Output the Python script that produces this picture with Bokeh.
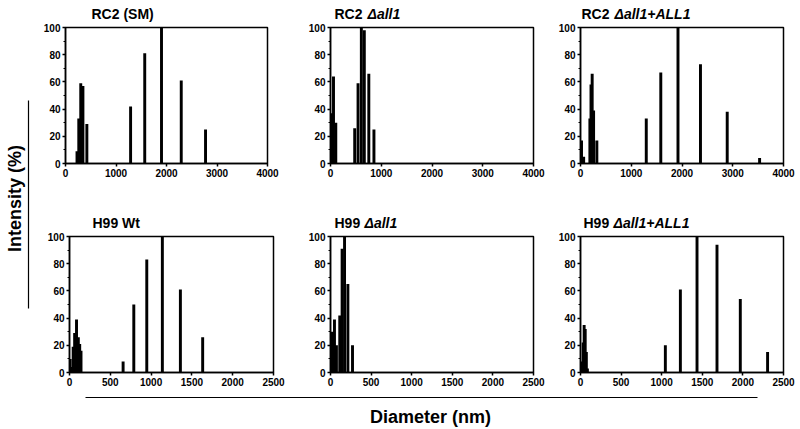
import math
from bokeh.plotting import figure
from bokeh.models import Range1d, Label, SingleIntervalTicker, FixedTicker
from bokeh.layouts import row, column
from bokeh.embed import file_html
from bokeh.resources import INLINE

# ---- data (diameter nm, intensity %) ----
rc2_sm_d = [228, 263, 302, 345, 423, 1289, 1569, 1901, 2292, 2773]
rc2_sm_i = [9, 33, 59, 57, 29, 42, 81, 100, 61, 25]
rc2_del_d = [20, 59, 104, 477, 543, 608, 666, 755, 856]
rc2_del_i = [37, 64, 30, 26, 59, 100, 98, 66, 25]
rc2_comp_d = [20, 62, 185, 207, 230, 258, 322, 1296, 1582, 1921, 2364, 2891, 3529]
rc2_comp_i = [17, 5, 33, 58, 66, 39, 17, 33, 67, 100, 73, 38, 4]
h99_wt_d = [8, 29, 45, 63, 86, 108, 125, 141, 657, 788, 947, 1138, 1359, 1632]
h99_wt_i = [10, 4, 19, 29, 39, 26, 21, 16, 8, 50, 83, 100, 61, 26]
h99_del_d = [6, 24, 49, 73, 114, 143, 173, 214, 271]
h99_del_i = [28, 30, 39, 20, 42, 91, 100, 65, 20]
h99_comp_d = [20, 33, 45, 58, 72, 85, 1045, 1230, 1435, 1681, 1968, 2304]
h99_comp_i = [8, 22, 35, 32, 15, 3, 20, 61, 100, 94, 54, 15]

top_ticks = [0, 1000, 2000, 3000, 4000]
bottom_ticks = [0, 500, 1000, 1500, 2000, 2500]

top_titles = [("RC2 (SM)", ""), ("RC2", "\u0394all1"), ("RC2", "\u0394all1+ALL1")]
bottom_titles = [("H99 Wt", ""), ("H99", "\u0394all1"), ("H99", "\u0394all1+ALL1")]

FONT = "Liberation Sans"
FRAME_H = 136
TOTAL_H = 428


def blank(width, height):
    p = figure(width=width, height=height, x_range=Range1d(0, width), y_range=Range1d(0, height),
               output_backend="svg", toolbar_location=None, title=None, min_border=0,
               x_axis_location=None, y_axis_location=None, outline_line_color=None)
    p.grid.visible = False
    return p


def panel(xs, ys, xmax, ticks, bar_w, width, bl, br, bt, bb):
    height = bt + FRAME_H + bb
    p = figure(width=width, height=height, x_range=Range1d(0, xmax), y_range=Range1d(0, 100),
               output_backend="svg", toolbar_location=None, title=None,
               min_border_left=bl, min_border_right=br, min_border_top=bt, min_border_bottom=bb)
    p.grid.visible = False
    p.outline_line_color = "black"
    p.outline_line_width = 1.5
    p.outline_line_alpha = 1
    p.vbar(x=xs, top=ys, bottom=0, width=bar_w, color="black", line_width=0)
    p.xaxis.ticker = FixedTicker(ticks=ticks)
    p.yaxis.ticker = SingleIntervalTicker(interval=20, num_minor_ticks=2)
    for ax in (p.xaxis[0], p.yaxis[0]):
        ax.axis_line_width = 1.5
        ax.axis_line_color = "black"
        ax.major_tick_line_color = "black"
        ax.major_tick_line_width = 1.5
        ax.major_tick_in = 0
        ax.major_tick_out = 3
        ax.major_label_standoff = 2
        ax.major_label_text_font = FONT
        ax.major_label_text_font_style = "bold"
        ax.major_label_text_font_size = "10px"
        ax.major_label_text_color = "black"
    p.xaxis.minor_tick_line_color = None
    p.yaxis.minor_tick_line_color = "black"
    p.yaxis.minor_tick_line_width = 1
    p.yaxis.minor_tick_in = 0
    p.yaxis.minor_tick_out = 2
    return p


def title_strip(height, titles, xs, base, gap):
    s = blank(760, height)
    for (up, it), x in zip(titles, xs):
        s.add_layout(Label(x=x, y=base, text=up, text_font=FONT, text_font_style="bold",
                           text_font_size="14px", text_color="black",
                           text_baseline="alphabetic", text_align="left"))
        if it:
            s.add_layout(Label(x=x + gap, y=base, text=it, text_font=FONT,
                               text_font_style="bold italic", text_font_size="14px",
                               text_color="black", text_baseline="alphabetic", text_align="left"))
    return s


t1 = title_strip(22, top_titles, [51, 294, 541], 9, 33)
f1 = panel(rc2_sm_d, rc2_sm_i, 4000, top_ticks, 58, 265, 22, 38, 5, 37)
f2 = panel(rc2_del_d, rc2_del_i, 4000, top_ticks, 58, 250, 24, 22, 5, 37)
f3 = panel(rc2_comp_d, rc2_comp_i, 4000, top_ticks, 58, 245, 24, 17, 5, 37)
t2 = title_strip(31, bottom_titles, [52, 294, 543], 9, 30)
f4 = panel(h99_wt_d, h99_wt_i, 2500, bottom_ticks, 36, 265, 29, 32, 5, 20)
f5 = panel(h99_del_d, h99_del_i, 2500, bottom_ticks, 36, 250, 23, 22, 5, 20)
f6 = panel(h99_comp_d, h99_comp_i, 2500, bottom_ticks, 36, 245, 24, 17, 5, 20)

# left label strip
LW = 40
left = blank(LW, TOTAL_H)
left.segment(x0=[28], y0=[TOTAL_H - 100], x1=[28], y1=[TOTAL_H - 308], line_color="black", line_width=1.2)
left.add_layout(Label(x=14, y=TOTAL_H - 198, text="Intensity (%)", angle=math.pi / 2,
                      text_font=FONT, text_font_style="bold", text_font_size="18px",
                      text_color="black", text_align="center", text_baseline="middle"))

# bottom label strip
BH = 36
bottom = blank(760, BH)
bottom.segment(x0=[45], y0=[31], x1=[717], y1=[31], line_color="black", line_width=1.2)
bottom.add_layout(Label(x=390, y=12, text="Diameter (nm)",
                        text_font=FONT, text_font_style="bold", text_font_size="18px",
                        text_color="black", text_align="center", text_baseline="alphabetic"))

layout = row(left, column(t1, row(f1, f2, f3), t2, row(f4, f5, f6), bottom))

open("out.html", "w").write(file_html(layout, INLINE))
